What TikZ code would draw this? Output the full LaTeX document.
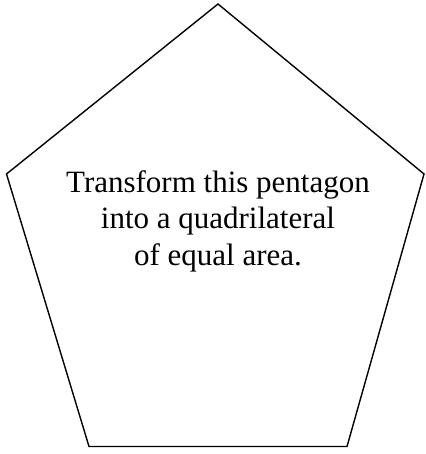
\documentclass[tikz,border=0pt]{standalone}
\usepackage{fontspec}
\setmainfont{Liberation Serif}
\begin{document}
\begin{tikzpicture}[
  x=1pt, y=-1pt,
  edge/.style={draw=black, line width=1.4pt, line join=miter},
  task/.style={align=center, inner sep=0pt, font=\fontsize{31}{36.5}\selectfont},
  ]
 \useasboundingbox (0,0) rectangle (425,454);
 \coordinate (top) at (218,4);
 \coordinate (left) at (6.5,174);
 \coordinate (right) at (424,174);
 \coordinate (bl) at (89,446.5);
 \coordinate (br) at (347,446.5);
 \draw [edge] (top) -- (right) -- (br) -- (bl) -- (left) -- cycle;
 \node [task, anchor=base] (t) at (218,265) {Transform this pentagon\\
    into a quadrilateral\\
    of equal area.};
\end{tikzpicture}
\end{document}
